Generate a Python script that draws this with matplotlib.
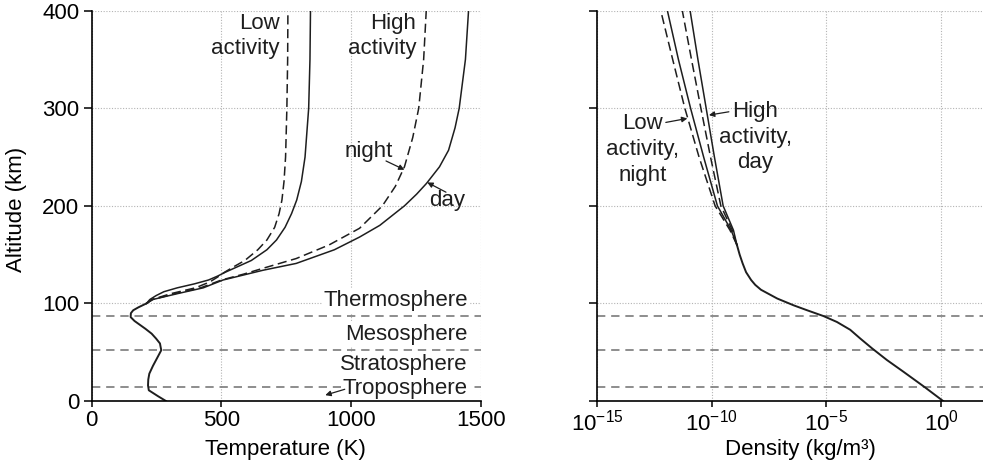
import numpy as np
import matplotlib.pyplot as plt
from matplotlib.ticker import FixedLocator, FuncFormatter

plt.rcParams['font.family'] = ['Liberation Sans', 'DejaVu Sans']
plt.rcParams['mathtext.default'] = 'regular'

# --- data ---
# layer boundaries (km)
layer_tops = [14, 52, 87]

# common temperature trunk, 0-100 km
trunk_alt = [0, 5, 11, 16, 22, 28, 36, 44, 52, 59, 64, 69, 74, 78, 82, 86, 90, 93, 96, 100]
trunk_temp = [286, 255, 220, 217, 218, 222, 236, 252, 268, 263, 248, 231, 207, 186, 165, 150, 151, 160, 180, 211]

# thermosphere temperature, low activity
low_night_alt = [100, 104, 110, 116, 122, 127, 132, 138, 144, 155, 165, 178, 192, 206, 225, 250, 300, 350, 400]
low_night_temp = [211, 232, 305, 400, 455, 485, 512, 550, 590, 640, 675, 705, 722, 733, 741, 747, 752, 755, 756]
low_day_alt = [100, 104, 108, 112, 116, 120, 124, 128, 132, 138, 144, 155, 165, 178, 192, 206, 225, 250, 300, 350, 400]
low_day_temp = [211, 224, 248, 278, 330, 395, 450, 485, 515, 565, 615, 675, 712, 745, 770, 790, 808, 822, 836, 841, 843]

# thermosphere temperature, high activity
high_night_alt = [100, 104, 110, 116, 124, 130, 136, 146, 160, 177, 200, 220, 240, 270, 300, 350, 400]
high_night_temp = [211, 235, 320, 420, 500, 585, 660, 788, 915, 1032, 1120, 1170, 1205, 1237, 1260, 1279, 1289]
high_day_alt = [100, 104, 110, 116, 124, 134, 141, 155, 168, 180, 200, 212, 223, 240, 257, 280, 300, 350, 400]
high_day_temp = [211, 235, 330, 430, 506, 660, 788, 935, 1032, 1110, 1205, 1252, 1290, 1340, 1375, 1400, 1416, 1440, 1452]

# density, log10(kg/m3): common trunk then four branches
dens_trunk_alt = [0, 14, 30, 42, 54, 64, 73, 81, 87, 93, 98, 105, 114, 119, 124, 132, 141, 150, 160]
dens_trunk_log = [0.09, -0.70, -1.64, -2.36, -3.01, -3.52, -3.96, -4.54, -5.12, -5.84, -6.42, -7.14,
                  -7.85, -8.1, -8.28, -8.5, -8.65, -8.78, -8.9]
dens_branch_alt = [160, 175, 200, 250, 300, 350, 400]
dens_low_night = [-8.9, -9.2, -9.85, -10.55, -11.17, -11.7, -12.22]
dens_low_day = [-8.9, -9.15, -9.75, -10.35, -10.92, -11.45, -11.93]
dens_high_night = [-8.9, -9.1, -9.6, -10.05, -10.47, -10.88, -11.28]
dens_high_day = [-8.9, -9.05, -9.5, -9.88, -10.24, -10.6, -10.94]

ink = '#1e1e1e'
grey = '#7a7a7a'
fs = 16

fig = plt.figure(figsize=(9.83, 4.70), dpi=100)
W, H = 983, 470
ax1 = fig.add_axes([91.7 / W, 1 - 401 / H, (481 - 91.7) / W, 390.3 / H])
ax2 = fig.add_axes([597 / W, 1 - 401 / H, (983 - 597) / W, 390.3 / H])

for ax in (ax1, ax2):
    for s in ('top', 'right'):
        ax.spines[s].set_visible(False)
    for s in ('left', 'bottom'):
        ax.spines[s].set_linewidth(1.2)
        ax.spines[s].set_color('black')
    ax.set_ylim(0, 400)
    ax.set_yticks([0, 100, 200, 300, 400])
    ax.grid(True, color='#b4b4b4', lw=0.8, ls=(0, (1, 1.5)))
    ax.set_axisbelow(True)
    ax.tick_params(axis='y', direction='out', length=6, width=1.1, pad=3, labelsize=fs)
    ax.tick_params(axis='x', direction='out', length=4.5, width=1.1, pad=2, labelsize=fs)
    for a in layer_tops:
        ax.axhline(a, color=grey, lw=1.2, ls=(0, (5, 3.5)), zorder=1)

# ---- left: temperature ----
ax1.set_xlim(0, 1500)
ax1.set_xticks([0, 500, 1000, 1500])
dash = dict(color=ink, lw=1.1, dashes=(6, 3))
solid = dict(color=ink, lw=1.1)
ax1.plot(trunk_temp, trunk_alt, color=ink, lw=1.4)
ax1.plot(low_night_temp, low_night_alt, **dash)
ax1.plot(low_day_temp, low_day_alt, **solid)
ax1.plot(high_night_temp, high_night_alt, **dash)
ax1.plot(high_day_temp, high_day_alt, **solid)
ax1.set_xlabel('Temperature (K)', fontsize=fs)
ax1.set_ylabel('Altitude (km)', fontsize=fs)
ax1.xaxis.set_label_coords(0.497, -0.098)
ax1.yaxis.set_label_coords(-0.165, 0.49)

ax1.text(724, 398, 'Low\nactivity', ha='right', va='top', fontsize=fs, color=ink, linespacing=1.28)
ax1.text(1250, 398, 'High\nactivity', ha='right', va='top', fontsize=fs, color=ink, linespacing=1.28)
ax1.text(1160, 256, 'night', ha='right', va='center', fontsize=fs, color=ink)
ax1.text(1301, 205, 'day', ha='left', va='center', fontsize=fs, color=ink)
arr = dict(arrowstyle='-|>', lw=0.9, color=ink, mutation_scale=8, shrinkA=0, shrinkB=0)
ax1.annotate('', xy=(1205, 237), xytext=(1134, 246), arrowprops=arr)
ax1.annotate('', xy=(1293, 224), xytext=(1365, 214), arrowprops=arr)

box = dict(facecolor='white', edgecolor='none', pad=1.0)
for name, a in [('Thermosphere', 102.8), ('Mesosphere', 68.6), ('Stratosphere', 37.6), ('Troposphere', 13)]:
    ax1.text(1449, a, name, ha='right', va='center', fontsize=fs, color=ink, bbox=box, zorder=3)
ax1.annotate('', xy=(900, 6), xytext=(975, 12), arrowprops=arr, zorder=4)

# ---- right: density ----
ax2.set_xscale('log')
ax2.set_xlim(1e-15, 10 ** 1.83)
ax2.xaxis.set_major_locator(FixedLocator([1e-15, 1e-10, 1e-5, 1e0]))
ax2.xaxis.set_minor_locator(FixedLocator([]))
ax2.xaxis.set_major_formatter(FuncFormatter(lambda v, p: r'$10^{%d}$' % round(np.log10(v))))
ax2.yaxis.set_ticklabels([])

ax2.plot(10 ** np.array(dens_trunk_log), dens_trunk_alt, color=ink, lw=1.4)
ax2.plot(10 ** np.array(dens_low_night), dens_branch_alt, **dash)
ax2.plot(10 ** np.array(dens_low_day), dens_branch_alt, **solid)
ax2.plot(10 ** np.array(dens_high_night), dens_branch_alt, **dash)
ax2.plot(10 ** np.array(dens_high_day), dens_branch_alt, **solid)
ax2.set_xlabel('Density (kg/m³)', fontsize=fs)
ax2.xaxis.set_label_coords(0.528, -0.098)

ax2.text(10 ** -13.0, 258, 'Low\nactivity,\nnight', ha='center', va='center', fontsize=fs,
         color=ink, multialignment='center', linespacing=1.3)
ax2.text(10 ** -8.1, 270.5, 'High\nactivity,\nday', ha='center', va='center', fontsize=fs,
         color=ink, multialignment='center', linespacing=1.3)
ax2.annotate('', xy=(10 ** -11.06, 289.6), xytext=(10 ** -12.0, 285.5), arrowprops=arr)
ax2.annotate('', xy=(10 ** -10.12, 293), xytext=(10 ** -9.25, 296.4), arrowprops=arr)

fig.savefig('out.png', dpi=100)
